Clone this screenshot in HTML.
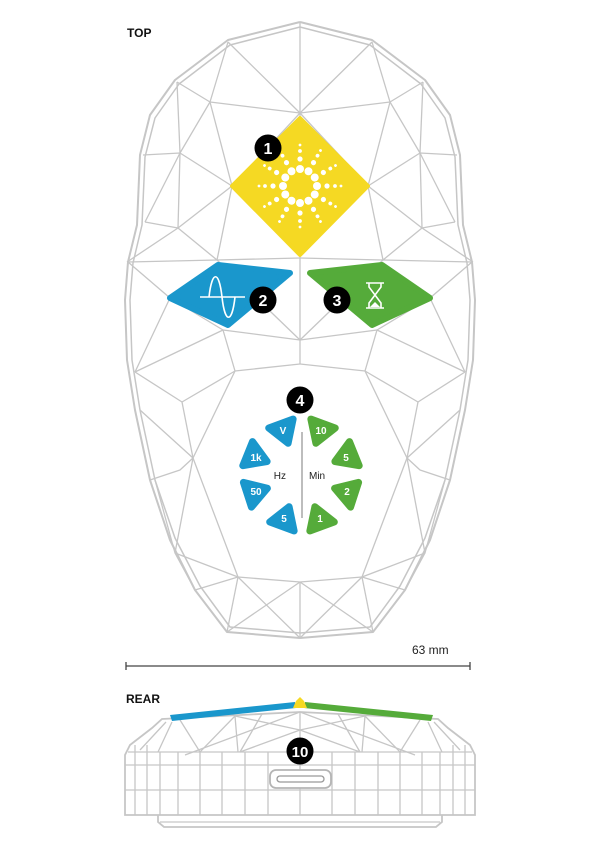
<!DOCTYPE html>
<html><head><meta charset="utf-8"><style>
html,body{margin:0;padding:0;background:#fff;}
svg{display:block;}
text{font-family:"Liberation Sans",sans-serif;}
</style></head><body>
<svg width="600" height="849" viewBox="0 0 600 849" xmlns="http://www.w3.org/2000/svg">
<defs>
<g id="half" fill="none" stroke="#c6c6c6" stroke-width="1.3" stroke-linejoin="round">
  <polyline stroke-width="2" points="300,22 228,40 175,80 150,115 140,155 137,225 128,262 125,300 127,360 135,410 150,480 170,540 195,590 227,632 300,638"/>
  <polyline stroke-width="1.5" points="300,27 230,45 179,84 155,118 145,157 142,225 133,263 130,300 132,360 140,410 155,480 175,538 200,586 230,627 300,633"/>
  <polyline points="228,42 300,113 210,102 228,42"/>
  <polyline points="177,82 210,102 180,153 177,82"/>
  <polyline points="143,155 180,153 145,222"/>
  <polyline points="210,102 232,186 180,153 178,228 232,186"/>
  <polyline points="145,222 178,228 127,262"/>
  <polyline points="178,228 217,260 232,186"/>
  <polyline points="128,262 217,260 300,258"/>
  <polyline points="300,113 232,186"/>
  <polyline points="128,262 170,298 135,372"/>
  <polyline points="170,298 223,330 135,372"/>
  <polyline points="223,330 300,340"/>
  <polyline points="223,330 235,371 300,364"/>
  <polyline points="135,372 182,402 235,371"/>
  <polyline points="182,402 193,458 140,410"/>
  <polyline points="193,458 180,470 150,480"/>
  <polyline points="193,458 175,553 155,480"/>
  <polyline points="235,371 193,458"/>
  <polyline points="193,458 238,577 175,553"/>
  <polyline points="175,553 195,590 238,577 300,582"/>
  <polyline points="238,577 227,632 300,582"/>
  <polyline points="238,577 300,638"/>
  <polyline points="217,260 300,340"/>
</g>
</defs>
<use href="#half"/>
<use href="#half" transform="translate(600,0) scale(-1,1)"/>
<line x1="300" y1="22" x2="300" y2="118" stroke="#c6c6c6" stroke-width="1.3"/>
<line x1="300" y1="255" x2="300" y2="364" stroke="#c6c6c6" stroke-width="1.3"/>
<line x1="300" y1="582" x2="300" y2="638" stroke="#c6c6c6" stroke-width="1.3"/>

<text x="127" y="37" font-size="12" font-weight="bold" fill="#111">TOP</text>

<path d="M300,118 L368,186 L300,255 L232,186 Z" fill="#f5d923" stroke="#f5d923" stroke-width="4" stroke-linejoin="round"/>
<g fill="#fff">
  <g id="ray">
    <circle cx="300" cy="169" r="4"/><circle cx="300" cy="159" r="2.6"/><circle cx="300" cy="151" r="1.9"/><circle cx="300" cy="145" r="1.4"/>
  </g>
  <use href="#ray" transform="rotate(30 300 186)"/><use href="#ray" transform="rotate(60 300 186)"/><use href="#ray" transform="rotate(90 300 186)"/>
  <use href="#ray" transform="rotate(120 300 186)"/><use href="#ray" transform="rotate(150 300 186)"/><use href="#ray" transform="rotate(180 300 186)"/>
  <use href="#ray" transform="rotate(210 300 186)"/><use href="#ray" transform="rotate(240 300 186)"/><use href="#ray" transform="rotate(270 300 186)"/>
  <use href="#ray" transform="rotate(300 300 186)"/><use href="#ray" transform="rotate(330 300 186)"/>
</g>
<circle cx="268" cy="148" r="13.5" fill="#000"/>
<text x="268" y="154" font-size="16" font-weight="bold" fill="#fff" text-anchor="middle">1</text>

<path d="M170,298 L218,265 L290,273 L228,325 Z" fill="#1a97cc" stroke="#1a97cc" stroke-width="6" stroke-linejoin="round"/>
<g stroke="#fff" stroke-width="1.6" fill="none">
  <line x1="200" y1="297" x2="245" y2="297"/>
  <path d="M209,297 C212,270 219,270 222,297 C225,324 232,324 235,297"/>
</g>
<circle cx="263" cy="300" r="13.5" fill="#000"/>
<text x="263" y="306" font-size="16" font-weight="bold" fill="#fff" text-anchor="middle">2</text>

<path d="M310,273 L382,265 L430,298 L372,325 Z" fill="#55ab3a" stroke="#55ab3a" stroke-width="6" stroke-linejoin="round"/>
<g stroke="#fff" stroke-width="1.6" fill="none">
  <line x1="366" y1="283" x2="384" y2="283"/><line x1="366" y1="308" x2="384" y2="308"/>
  <path d="M369,283 L369,287 L375,295 L369,303 L369,308 M381,283 L381,287 L375,295 L381,303 L381,308"/>
</g>
<path d="M370,307 L375,302 L380,307 Z" fill="#fff"/>
<circle cx="337" cy="300" r="13.5" fill="#000"/>
<text x="337" y="306" font-size="16" font-weight="bold" fill="#fff" text-anchor="middle">3</text>

<circle cx="300" cy="400" r="13.5" fill="#000"/>
<text x="300" y="406" font-size="16" font-weight="bold" fill="#fff" text-anchor="middle">4</text>
<line x1="302" y1="432" x2="302" y2="518" stroke="#999" stroke-width="1.3"/>
<defs><path id="tri" d="M-9,-13 L-9,13 L12,0 Z" stroke-width="7" stroke-linejoin="round"/></defs>
<g fill="#1a97cc" stroke="#1a97cc">
  <use href="#tri" transform="translate(284,432) rotate(70)"/>
  <use href="#tri" transform="translate(256,457) rotate(22)"/>
  <use href="#tri" transform="translate(256,492) rotate(-18)"/>
  <use href="#tri" transform="translate(285,518) rotate(-70)"/>
</g>
<g fill="#55ab3a" stroke="#55ab3a">
  <use href="#tri" transform="translate(320,432) rotate(110)"/>
  <use href="#tri" transform="translate(346,457) rotate(158)"/>
  <use href="#tri" transform="translate(346,492) rotate(198)"/>
  <use href="#tri" transform="translate(319,518) rotate(250)"/>
</g>
<g font-size="10" font-weight="bold" fill="#fff" text-anchor="middle">
  <text x="283" y="434">V</text><text x="256" y="461">1k</text><text x="256" y="495">50</text><text x="284" y="522">5</text>
  <text x="321" y="434">10</text><text x="346" y="461">5</text><text x="347" y="495">2</text><text x="320" y="522">1</text>
</g>
<text x="286" y="479" font-size="10" fill="#222" text-anchor="end">Hz</text>
<text x="309" y="479" font-size="10" fill="#222">Min</text>

<text x="412" y="654" font-size="12" fill="#222">63 mm</text>
<g stroke="#444" stroke-width="1.3">
  <line x1="126" y1="666" x2="470" y2="666"/>
  <line x1="126" y1="662" x2="126" y2="670"/><line x1="470" y1="662" x2="470" y2="670"/>
</g>

<text x="126" y="703" font-size="12" font-weight="bold" fill="#111">REAR</text>
<g fill="none" stroke="#c6c6c6" stroke-width="1.3">
  <path d="M162,719 L300,712 L438,719 L448,728 L470,745 L475,755 L475,815 L125,815 L125,755 L130,745 L152,728 Z" stroke-width="1.8"/>
  <path d="M158,815 L158,822 L164,827 L436,827 L442,822 L442,815" stroke-width="1.8"/>
  <line x1="160" y1="822" x2="440" y2="822"/>
  <line x1="125" y1="765" x2="475" y2="765"/>
  <line x1="125" y1="790" x2="475" y2="790"/>
  <line x1="128" y1="752" x2="472" y2="752"/>
  <path d="M300,712 L300,815 M300,712 L185,755 M300,712 L415,755 M235,716 L300,730 L365,716 M300,730 L240,752 M300,730 L360,752"/>
  <path d="M180,720 L200,752 L235,716 L238,752 M262,714 L240,752 M420,720 L400,752 L365,716 L362,752 M338,714 L360,752"/>
  <path d="M166,722 L140,750 M172,722 L158,752 M434,722 L460,750 M428,722 L442,752"/>
  <path d="M135,745 V815 M147,745 V815 M160,752 V815 M178,752 V815 M200,752 V815 M222,752 V815 M245,752 V815 M268,752 V815 M332,752 V815 M355,752 V815 M378,752 V815 M400,752 V815 M422,752 V815 M440,752 V815 M453,745 V815 M465,745 V815"/>
</g>
<path d="M170,715 L295,702 L296,708 L172,721 Z" fill="#1a97cc"/>
<path d="M305,702 L433,715 L431,721 L304,708 Z" fill="#55ab3a"/>
<path d="M293,708 L296,701 L300,697 L304,701 L307,708 Z" fill="#f5d923"/>
<rect x="270" y="770" width="61" height="18" rx="6" fill="#fff" stroke="#b5b5b5" stroke-width="1.8"/>
<rect x="277" y="776" width="47" height="6" rx="3" fill="#fff" stroke="#999" stroke-width="1.3"/>
<circle cx="300" cy="751" r="13.5" fill="#000"/>
<text x="300" y="757" font-size="15" font-weight="bold" fill="#fff" text-anchor="middle">10</text>
</svg>
</body></html>
